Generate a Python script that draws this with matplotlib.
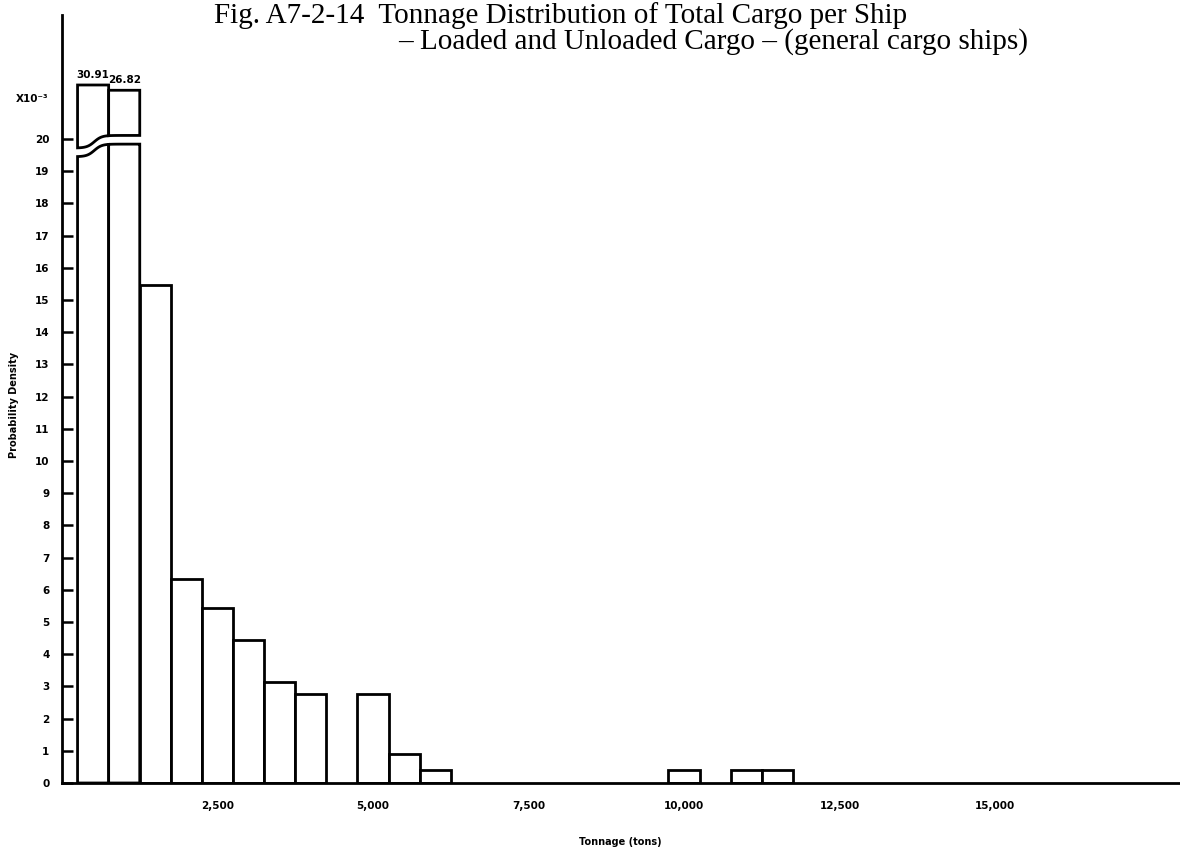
import numpy as np
import matplotlib
matplotlib.use("Agg")
import matplotlib.pyplot as plt
from matplotlib.patches import Polygon

# Class marks (tons) and probability density (x10^-3) per 500-ton class
bin_centers = [500, 1000, 1500, 2000, 2500, 3000, 3500, 4000, 4500,
               5000, 5500, 6000, 10000, 11000, 11500]
density = [30.91, 26.82, 15.45, 6.35, 5.45, 4.45, 3.15, 2.75, 0.0,
           2.75, 0.90, 0.40, 0.40, 0.40, 0.40]
bin_width = 500

x_ticks = [2500, 5000, 7500, 10000, 12500, 15000]
x_tick_labels = ["2,500", "5,000", "7,500", "10,000", "12,500", "15,000"]
y_ticks = list(range(0, 21))

BREAK_AT = 20.0          # values above this are drawn on a compressed scale
UPPER_OFFSET = 20.44
UPPER_SCALE = 0.04

title_1 = "Fig. A7-2-14  Tonnage Distribution of Total Cargo per Ship"
title_2 = "\u2013 Loaded and Unloaded Cargo \u2013 (general cargo ships)"

W, H = 1180, 849
fig = plt.figure(figsize=(W / 100, H / 100), dpi=100)
ax = fig.add_axes([62 / W, (H - 783) / H, (W - 62) / W, (783 - 15) / H])
ax.set_xlim(0, (W - 62) / 0.0622)
ax.set_ylim(0, 23.85)

LW = 2.0
sans_bold = dict(family="DejaVu Sans", weight="bold")


def lower_edge(x):
    # wavy cut line across the two broken columns
    s = 1.0 / (1.0 + np.exp(-(x - 520.0) / 60.0))
    return 19.45 + 0.39 * s


for c, v in zip(bin_centers, density):
    x0, x1 = c - bin_width / 2, c + bin_width / 2
    if v <= 0:
        continue
    if v > BREAK_AT:
        xs = np.linspace(x0, x1, 60)
        lo = lower_edge(xs)
        hi = lo + 0.27
        top = UPPER_OFFSET + UPPER_SCALE * v
        lower_poly = np.column_stack([np.r_[x0, xs, x1], np.r_[0, lo, 0]])
        upper_poly = np.column_stack([np.r_[xs, x1, x0], np.r_[hi, top, top]])
        for pts in (lower_poly, upper_poly):
            ax.add_patch(Polygon(pts, closed=True, facecolor="white",
                                 edgecolor="black", lw=LW, joinstyle="miter"))
        ax.text(c, top + 0.15, f"{v:.2f}", ha="center", va="bottom",
                fontsize=7.5, **sans_bold)
    else:
        ax.bar(c, v, width=bin_width, facecolor="white", edgecolor="black",
               linewidth=LW, zorder=2)

for side in ("top", "right"):
    ax.spines[side].set_visible(False)
ax.spines["left"].set_linewidth(2.0)
ax.spines["bottom"].set_linewidth(2.0)

ax.set_yticks(y_ticks)
ax.set_yticklabels([str(t) for t in y_ticks], **sans_bold)
ax.tick_params(axis="y", direction="in", length=8, width=1.8, labelsize=7.5,
               pad=9)
ax.set_xticks(x_ticks)
ax.set_xticklabels(x_tick_labels, **sans_bold)
ax.tick_params(axis="x", length=0, labelsize=7.5, pad=13)

ax.text(-0.012, 21.25, "X10\u207b\u00b3", transform=ax.get_yaxis_transform(),
        ha="right", va="center", fontsize=7.5, **sans_bold)

fig.text(14 / W, 1 - 405 / H, "Probability Density", rotation=90,
         ha="center", va="center", fontsize=7, **sans_bold)
fig.text(620 / W, 1 - 842 / H, "Tonnage (tons)", ha="center", va="center",
         fontsize=7, **sans_bold)

fig.text(214 / W, 1 - 16 / H, title_1, ha="left", va="center",
         fontsize=21, family="Liberation Serif")
fig.text(398 / W, 1 - 42 / H, title_2, ha="left", va="center",
         fontsize=21, family="Liberation Serif")

fig.savefig("out.png", dpi=100, facecolor="white")
